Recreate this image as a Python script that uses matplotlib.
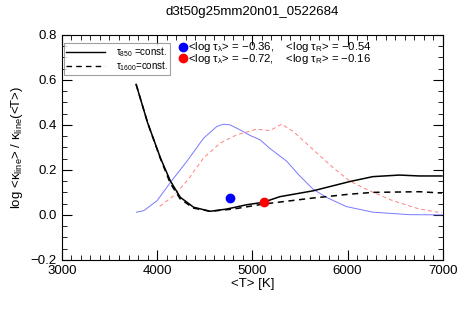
import matplotlib
matplotlib.use("Agg")
import matplotlib.pyplot as plt
from matplotlib.ticker import MultipleLocator
from matplotlib.lines import Line2D

plt.rcParams["font.family"] = ["Liberation Sans", "DejaVu Sans"]
plt.rcParams["mathtext.fontset"] = "custom"
plt.rcParams["mathtext.rm"] = "Liberation Sans"
plt.rcParams["mathtext.it"] = "Liberation Sans"

title = "d3t50g25mm20n01_0522684"

# tau_850 = const. (solid black)
t_solid = [3780, 3900, 4035, 4139, 4244, 4383, 4557, 4732, 4941, 5115, 5289,
           5638, 6021, 6265, 6544, 6753, 6990]
k_solid = [0.58, 0.41, 0.253, 0.151, 0.078, 0.034, 0.016, 0.026, 0.045, 0.056,
           0.081, 0.107, 0.148, 0.170, 0.177, 0.173, 0.173]

# tau_1600 = const. (dashed black)
t_dash = [3780, 3900, 4035, 4139, 4244, 4383, 4557, 4801, 5115, 5638, 6021,
          6265, 6753, 6990]
k_dash = [0.58, 0.41, 0.250, 0.140, 0.070, 0.030, 0.016, 0.026, 0.048, 0.075,
          0.092, 0.100, 0.103, 0.097]

# line distribution, blue
t_blue = [3784, 3861, 4000, 4139, 4314, 4488, 4627, 4697, 4767, 4871, 4976,
          5080, 5185, 5359, 5498, 5638, 5777, 5986, 6265, 6648, 6990]
k_blue = [0.012, 0.019, 0.063, 0.144, 0.239, 0.341, 0.393, 0.403, 0.400, 0.378,
          0.353, 0.334, 0.295, 0.239, 0.173, 0.114, 0.078, 0.037, 0.012, 0.001,
          0.0]

# line distribution, red
t_red = [4028, 4174, 4314, 4488, 4662, 4836, 5045, 5185, 5307, 5429, 5638,
         5847, 6021, 6230, 6474, 6753, 6990]
k_red = [0.038, 0.085, 0.151, 0.253, 0.319, 0.356, 0.381, 0.375, 0.403, 0.371,
         0.290, 0.210, 0.151, 0.107, 0.063, 0.026, 0.009]

dot_t = [4770, 5118]
dot_k = [0.073, 0.056]
dot_colors = ["#0000ff", "#ff0000"]
dot_labels = [r"<log $\tau_\lambda$> = $-$0.36,    <log $\tau_R$> = $-$0.54",
              r"<log $\tau_\lambda$> = $-$0.72,    <log $\tau_R$> = $-$0.16"]

fig = plt.figure(figsize=(4.58, 3.09), dpi=100)
ax = fig.add_axes([0.135, 0.159, 0.832, 0.728])

ax.plot(t_blue, k_blue, color="#7878ff", lw=0.7)
ax.plot(t_red, k_red, color="#ff8080", lw=0.7, ls=(0, (4, 3)))
ax.plot(t_solid, k_solid, color="black", lw=1.1)
ax.plot(t_dash, k_dash, color="black", lw=1.1, ls=(0, (4, 3)))
for t, k, c in zip(dot_t, dot_k, dot_colors):
    ax.plot(t, k, "o", color=c, ms=6)

ax.set_xlim(3000, 7000)
ax.set_ylim(-0.2, 0.8)
ax.xaxis.set_major_locator(MultipleLocator(1000))
ax.xaxis.set_minor_locator(MultipleLocator(100))
ax.yaxis.set_major_locator(MultipleLocator(0.2))
ax.yaxis.set_minor_locator(MultipleLocator(0.05))
ax.tick_params(which="both", direction="in", top=True, right=True, labelsize=9.5)
ax.tick_params(which="major", length=7)
ax.tick_params(which="minor", length=3.5)
ax.set_yticklabels([f"{v:.1f}".replace("-", "\u2212") for v in ax.get_yticks()])

ax.set_title(title, fontsize=9.5, pad=14)
ax.set_xlabel("<T> [K]", fontsize=9.5, labelpad=1)
ax.set_ylabel(r"log <$\kappa_{\rm line}$> / $\kappa_{\rm line}$(<T>)", fontsize=9.5)

handles = [Line2D([], [], color="black", lw=1.0),
           Line2D([], [], color="black", lw=1.0, ls=(0, (4, 3)))]
leg = ax.legend(handles, [r"$\tau_{850}$ =const.", r"$\tau_{1600}$=const."],
                loc="upper left", bbox_to_anchor=(0.0, 0.972), fontsize=7,
                frameon=True, fancybox=False, edgecolor="#888888",
                handlelength=4.0, borderpad=0.2, labelspacing=0.05,
                handletextpad=1.2, borderaxespad=0.2)
leg.get_frame().set_linewidth(0.8)

# dots beside the legend, one text block for both lines
for i, c in enumerate(dot_colors):
    y = 0.946 - i * 0.05
    ax.plot([0.318], [y], "o", color=c, ms=6, transform=ax.transAxes, clip_on=False)
ax.text(0.331, 0.921, "\n".join(dot_labels), transform=ax.transAxes,
        fontsize=8.2, va="center", linespacing=0.78)

fig.savefig("out.png", dpi=100)
